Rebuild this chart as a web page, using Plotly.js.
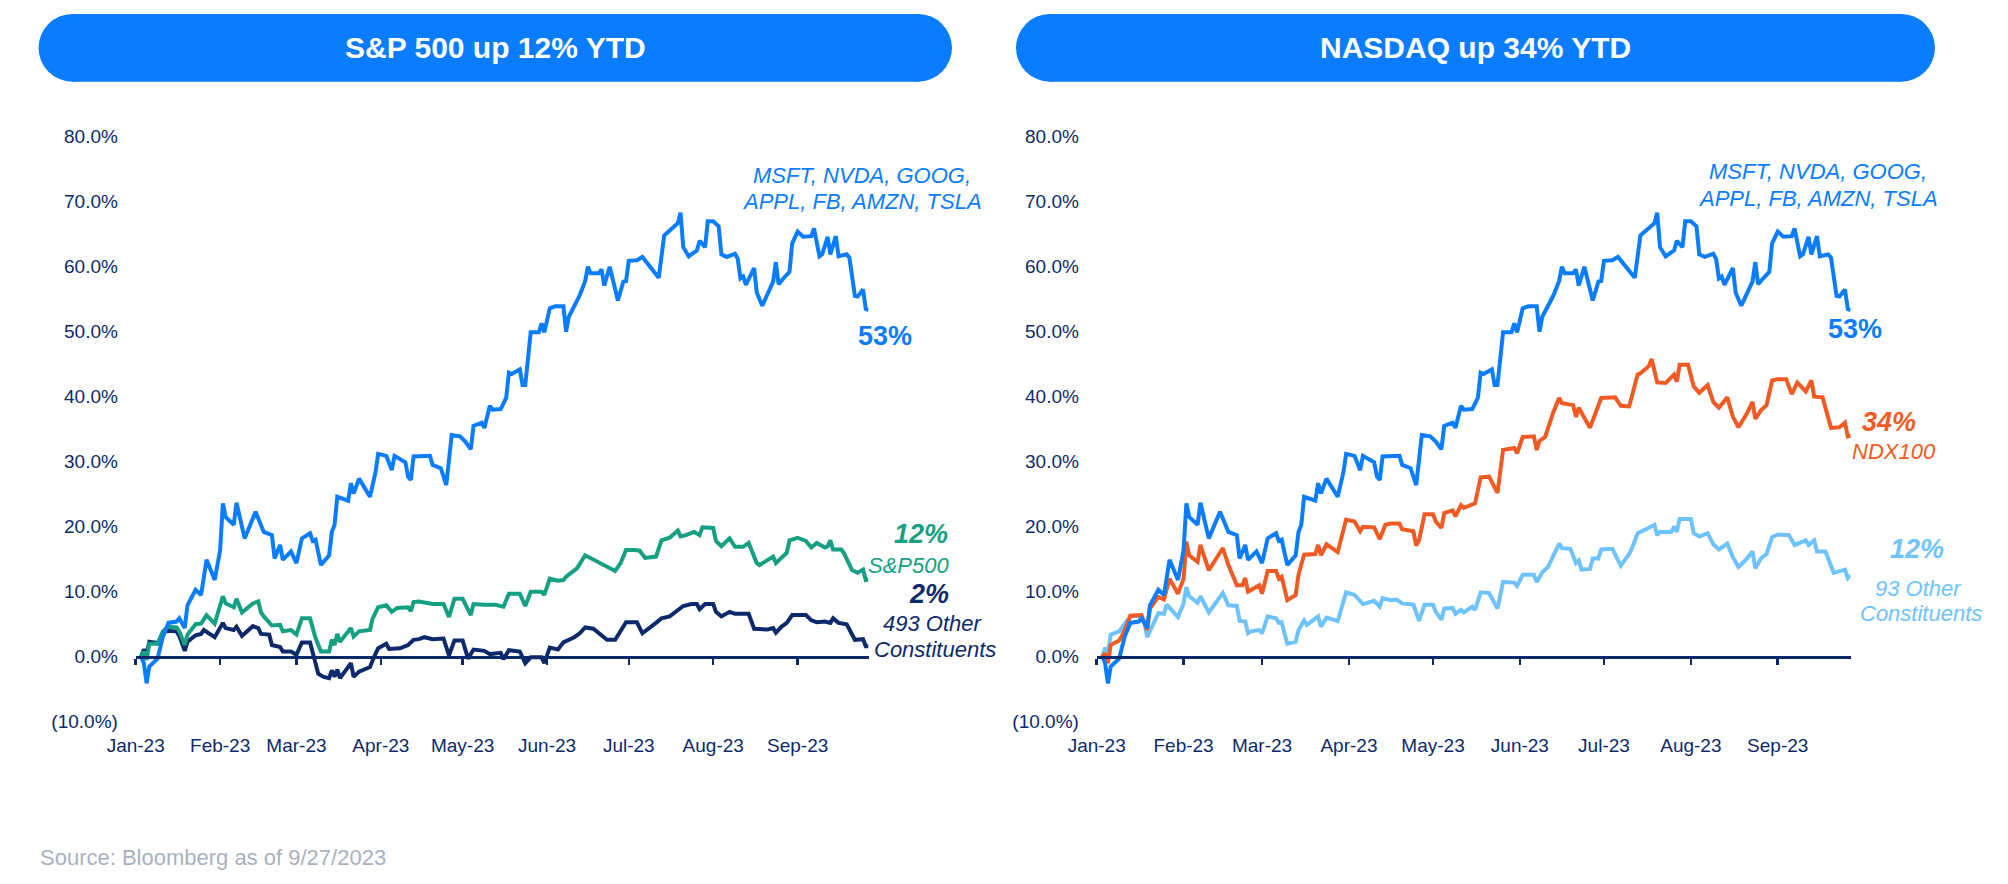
<!DOCTYPE html>
<html>
<head>
<meta charset="utf-8">
<script src="https://cdn.plot.ly/plotly-3.0.1.min.js"></script>
<style>
html,body{margin:0;padding:0;background:#fff;}
#chart{width:2008px;height:884px;}
</style>
</head>
<body>
<div id="chart"></div>
<script>
// ---- DATA (day = days since 2023-01-01, values in %) ----
const mag7Days = [2,3,4,5,8,10,12,15,16,18,19,22,24,26,29,31,32,33,36,37,40,44,47,50,51,53,54,57,59,61,64,65,66,68,71,72,73,74,78,79,80,82,86,88,89,92,94,95,99,100,101,102,108,109,112,114,116,119,121,123,124,127,128,130,131,134,136,137,138,141,142,143,145,148,149,150,152,154,157,158,159,160,163,165,166,167,170,171,172,174,177,179,180,181,184,186,189,192,194,197,199,200,201,203,206,207,208,209,210,212,214,215,217,220,221,222,223,224,227,228,230,234,235,236,238,240,241,243,245,248,249,251,252,254,255,257,258,261,262,264,265,267,268,269];
const mag7Vals = [0.0,-1.0,-4.1,-1.5,-0.3,3.1,5.2,5.4,5.9,4.4,7.9,10.3,9.5,14.9,11.8,16.4,23.6,21.5,20.3,23.7,18.2,22.3,19.2,18.7,15.1,17.2,14.9,16.2,14.4,18.2,19.0,17.8,18.0,14.1,15.6,19.2,20.3,24.6,24.0,26.7,25.1,27.4,24.6,28.3,31.2,30.9,28.7,30.9,29.9,27.7,27.2,30.8,30.9,29.5,29.0,26.4,34.1,33.9,33.1,31.9,35.5,36.0,35.2,38.6,38.0,38.1,39.8,43.7,43.5,44.2,41.8,41.8,49.9,49.9,51.3,49.9,53.6,53.9,53.9,50.0,52.3,53.1,55.6,57.8,60.0,59.0,59.0,59.6,57.1,60.0,54.8,57.7,57.8,60.9,61.0,61.5,59.8,58.3,64.8,65.9,66.7,68.3,63.0,61.6,62.5,64.0,63.5,63.0,67.0,67.0,66.2,61.9,61.5,62.0,61.2,58.2,58.5,57.2,59.8,56.0,54.0,57.7,60.7,57.3,58.3,59.2,63.6,65.4,64.6,64.7,65.9,61.6,61.9,64.6,61.9,64.7,61.6,61.9,61.4,55.5,55.4,56.5,53.5,53.3];

const spxDays = [2,3,4,5,8,10,12,15,16,18,19,22,24,26,29,32,33,36,37,39,43,45,46,47,50,53,54,57,59,61,64,65,66,68,71,72,73,74,75,79,80,82,86,87,89,92,94,96,100,101,102,104,109,113,115,117,120,123,124,128,132,135,137,141,143,145,149,150,152,155,157,158,162,165,168,171,173,176,178,180,183,185,187,191,193,196,199,200,202,205,207,208,212,213,215,218,220,223,225,228,229,232,234,235,237,239,240,243,246,248,250,253,254,255,256,259,260,263,265,267,268,269];
const spxVals = [0.0,0.8,-0.5,2.0,2.0,3.9,4.6,4.5,3.9,1.8,3.4,5.0,5.1,6.4,5.1,9.3,8.2,7.6,8.9,6.8,8.2,8.5,6.8,6.2,4.8,4.9,3.9,4.1,3.4,5.9,5.9,4.6,2.9,0.8,0.8,2.6,1.8,3.5,2.3,4.4,3.1,3.9,4.1,5.9,7.6,7.9,6.9,7.5,7.6,7.0,8.4,8.5,8.1,8.1,6.1,8.9,8.9,6.4,8.1,8.0,8.0,7.7,9.7,9.7,7.8,10.0,10.0,9.5,12.0,11.7,11.8,12.3,13.6,15.6,14.9,14.3,13.8,13.2,14.4,16.4,16.4,16.3,15.2,15.4,17.9,18.3,19.4,18.5,18.7,19.2,18.7,19.9,19.8,17.8,17.0,18.2,16.9,16.9,17.5,14.4,14.1,14.8,15.4,14.4,15.2,16.0,17.9,18.3,17.8,16.8,17.5,16.8,17.0,17.9,16.5,16.5,15.9,13.3,12.9,13.4,11.8,11.9];

const other493Days = [2,3,4,5,8,10,11,15,16,18,19,22,24,25,29,32,33,36,37,39,43,45,46,49,50,53,54,57,59,61,64,65,67,69,71,72,73,74,75,79,80,82,86,87,89,92,93,97,100,102,104,106,109,113,115,117,120,122,124,128,130,134,135,137,141,143,145,149,150,152,155,157,161,163,165,168,171,173,176,178,180,184,186,191,193,196,198,201,204,206,207,209,212,213,215,218,220,225,227,232,234,235,237,239,241,243,246,248,250,253,255,256,258,261,262,264,267,268,269];
const other493Vals = [0.0,1.1,0.3,2.3,2.1,3.5,4.0,3.9,3.2,0.9,2.3,3.3,3.5,4.1,3.0,5.2,4.4,4.1,4.6,3.2,4.7,4.4,3.5,3.4,1.8,1.5,0.8,0.8,0.3,2.2,2.2,0.6,-2.6,-3.1,-3.3,-2.1,-3.1,-2.0,-3.3,-1.0,-3.1,-2.3,-1.6,-0.5,1.3,2.0,1.2,1.3,1.8,2.6,2.7,3.0,2.7,2.8,0.2,2.5,2.5,-0.3,1.1,0.9,0.4,0.6,-0.4,1.0,0.8,-1.0,-0.1,-0.1,-1.0,1.4,1.1,2.2,3.0,3.6,4.5,4.3,3.3,2.6,2.6,3.9,5.3,5.3,3.6,5.2,5.9,6.2,6.9,7.8,8.1,8.1,7.3,8.1,8.1,6.9,6.2,6.9,6.6,6.6,4.3,4.2,4.4,3.7,4.6,5.2,6.4,6.4,6.4,5.6,5.3,5.4,5.2,5.9,5.2,5.0,4.1,2.6,2.7,1.6,1.6];

const ndxDays = [2,3,4,5,8,9,11,12,16,18,19,22,24,26,29,31,32,33,36,37,40,45,47,50,52,53,54,58,59,61,64,65,66,68,71,72,74,78,79,80,82,86,89,92,94,95,99,101,103,105,108,109,113,114,115,117,120,121,123,124,127,128,130,131,135,137,140,143,145,149,150,152,156,157,158,160,163,165,166,170,171,172,176,178,180,185,187,190,193,194,197,198,200,203,206,207,208,211,212,213,215,218,220,222,225,227,229,232,234,235,237,239,241,243,246,248,250,253,255,256,259,262,265,267,268,269];
const ndxVals = [0.0,0.5,-1.0,1.8,2.5,3.2,5.1,6.3,6.4,4.1,7.4,9.2,8.8,12.0,9.7,12.0,17.7,15.6,14.6,17.2,13.3,16.7,14.1,11.0,11.0,12.1,10.0,11.0,9.7,13.2,13.2,12.0,12.3,8.7,9.5,12.6,15.7,15.8,17.2,15.6,17.3,16.1,21.1,20.8,19.3,20.0,19.9,18.1,20.3,20.5,20.5,19.6,19.3,17.1,17.9,21.9,21.9,20.8,19.8,22.1,22.5,21.6,23.3,22.9,23.6,27.6,27.7,25.2,31.8,32.1,31.3,33.8,33.9,31.8,33.2,33.8,37.7,39.8,39.0,38.7,36.9,38.3,35.2,37.7,39.8,39.9,38.6,38.5,43.4,43.6,44.7,45.8,42.2,42.1,43.4,42.3,44.9,44.9,43.5,41.6,40.6,41.8,39.2,38.3,39.9,36.9,35.3,37.4,39.2,36.6,37.9,38.7,42.5,42.7,42.7,40.4,42.2,40.8,42.5,40.0,39.9,35.2,35.3,36.0,33.9,34.0];

const other93Days = [2,3,4,5,8,10,12,15,17,18,20,22,24,25,29,31,32,33,36,37,40,45,47,50,51,53,54,55,58,59,61,64,65,66,68,71,72,74,75,79,80,82,86,89,92,95,99,101,102,105,107,109,113,115,117,120,121,123,124,127,128,130,131,134,135,137,140,143,145,149,150,152,156,157,159,161,163,165,166,169,171,172,173,176,177,179,180,184,187,190,191,193,196,199,200,201,205,206,207,208,212,213,215,218,220,222,225,227,229,232,234,235,237,239,241,243,247,249,252,253,254,256,257,260,263,267,268,269];
const other93Vals = [0.0,1.4,0.6,3.4,3.9,5.1,6.2,6.3,5.4,3.0,4.9,6.7,6.6,8.0,6.1,8.2,10.7,9.3,8.3,9.3,6.8,9.8,7.9,7.8,5.5,5.4,3.6,3.9,4.1,3.6,6.2,5.9,5.2,5.3,2.0,2.3,4.1,5.6,4.9,6.2,4.6,6.0,5.5,9.9,9.5,8.1,8.6,7.7,9.0,8.7,8.8,8.2,8.0,5.5,8.0,8.0,6.9,5.7,7.4,7.5,6.6,7.2,6.8,7.7,7.2,9.9,9.8,7.4,11.5,11.4,10.9,12.6,12.6,11.5,13.0,13.8,15.6,17.4,16.7,16.6,14.4,14.8,13.4,13.5,15.1,15.1,16.5,16.6,14.0,15.8,16.7,19.0,19.6,20.3,18.7,19.2,19.2,20.0,19.2,21.2,21.2,19.0,18.5,19.0,17.3,16.5,17.4,15.3,13.8,15.1,16.2,13.6,15.1,15.8,18.4,18.8,18.7,17.2,17.7,17.9,17.2,17.9,16.2,16.2,12.9,13.4,12.1,12.5];

const monthTicks = ['2023-01-01','2023-02-01','2023-03-01','2023-04-01','2023-05-01','2023-06-01','2023-07-01','2023-08-01','2023-09-01'];
const monthLabels = ['Jan-23','Feb-23','Mar-23','Apr-23','May-23','Jun-23','Jul-23','Aug-23','Sep-23'];
const yTickVals = [-10,0,10,20,30,40,50,60,70,80];
const yTickLabels = ['(10.0%)','0.0%','10.0%','20.0%','30.0%','40.0%','50.0%','60.0%','70.0%','80.0%'];
const xRange = ['2023-01-01','2023-09-27'];

// ---- helpers ----
function toDate(d){ return new Date(Date.UTC(2023,0,1) + d*86400000).toISOString().slice(0,10); }
const W = 2008, H = 884;
const px = v => v / W;
const py = v => 1 - v / H;

const FONT = 'Arial, "Liberation Sans", sans-serif';
const NAVY = '#0c2a6b';
const BLUE = '#0a7cff';
const GREEN = '#15a083';
const ORANGE = '#f25a24';
const LIGHT = '#6ec3ff';

function line(days, vals, color, xa, ya){
  return {x: days.map(toDate), y: vals, type:'scatter', mode:'lines',
    line:{color:color, width:4}, xaxis:xa, yaxis:ya, hoverinfo:'skip'};
}
function dummy(xa, ya){
  return {x:[], y:[], type:'scatter', mode:'lines', xaxis:xa, yaxis:ya, hoverinfo:'skip', showlegend:false};
}

const traces = [
  dummy('x3', 'y'),
  dummy('x4', 'y2'),
  line(other493Days, other493Vals, NAVY, 'x', 'y'),
  line(spxDays, spxVals, GREEN, 'x', 'y'),
  line(mag7Days, mag7Vals, BLUE, 'x', 'y'),
  line(other93Days, other93Vals, LIGHT, 'x2', 'y2'),
  line(ndxDays, ndxVals, ORANGE, 'x2', 'y2'),
  line(mag7Days, mag7Vals, BLUE, 'x2', 'y2')
];

const yDom = [py(721.7), py(136.7)];
const leftDom = [px(135.7), px(868.5)];
const rightDom = [px(1096.7), px(1850.6)];
const zeroPos = py(656.7);

function yAxis(anchor){
  return {domain:yDom, range:[-10,80], anchor:anchor, tickvals:yTickVals, ticktext:yTickLabels,
    showgrid:false, zeroline:false, showline:false, ticks:'outside', ticklen:13,
    tickcolor:'rgba(0,0,0,0)', tickfont:{family:FONT, size:19, color:NAVY}, fixedrange:true};
}
function xLabelAxis(dom, anchor){
  return {type:'date', domain:dom, range:xRange, anchor:anchor, tickvals:monthTicks, ticktext:monthLabels,
    showgrid:false, zeroline:false, showline:false, ticks:'outside', ticklen:6, tickcolor:'rgba(0,0,0,0)',
    tickfont:{family:FONT, size:19, color:NAVY}, fixedrange:true};
}
function xZeroAxis(dom, over){
  return {type:'date', domain:dom, range:xRange, overlaying:over, anchor:'free', position:zeroPos,
    tickvals:monthTicks, showticklabels:false, showgrid:false, zeroline:false,
    showline:true, linecolor:NAVY, linewidth:3, ticks:'outside', ticklen:6, tickwidth:2.5, tickcolor:NAVY,
    fixedrange:true};
}

function pill(x0, x1, y0, y1){
  const r = (y1 - y0) / 2;
  const c = BLUE;
  return [
    {type:'rect', xref:'paper', yref:'paper', x0:px(x0 + r), x1:px(x1 - r), y0:py(y1), y1:py(y0), fillcolor:c, line:{width:0}, layer:'below'},
    {type:'circle', xref:'paper', yref:'paper', x0:px(x0), x1:px(x0 + 2*r), y0:py(y1), y1:py(y0), fillcolor:c, line:{width:0}, layer:'below'},
    {type:'circle', xref:'paper', yref:'paper', x0:px(x1 - 2*r), x1:px(x1), y0:py(y1), y1:py(y0), fillcolor:c, line:{width:0}, layer:'below'}
  ];
}

function ann(text, x, y, size, color, opts){
  opts = opts || {};
  let t = text;
  if(opts.italic) t = '<i>' + t + '</i>';
  if(opts.bold) t = '<b>' + t + '</b>';
  return {text:t, xref:'paper', yref:'paper', x:px(x), y:py(y), xanchor:opts.xanchor || 'center', yanchor:'middle',
    showarrow:false, font:{family:FONT, size:size, color:color}};
}

const annotations = [
  ann('S&amp;P 500 up 12% YTD', 495, 47, 30, '#ffffff', {bold:true}),
  ann('NASDAQ up 34% YTD', 1475.5, 47, 30, '#ffffff', {bold:true}),
  // left
  ann('MSFT, NVDA, GOOG,', 862, 175.7, 22, BLUE, {italic:true}),
  ann('APPL, FB, AMZN, TSLA', 862, 201.7, 22, BLUE, {italic:true}),
  ann('53%', 884.6, 336, 27, BLUE, {bold:true}),
  ann('12%', 920.6, 534.3, 27, GREEN, {bold:true, italic:true}),
  ann('S&amp;P500', 908, 565.3, 22, GREEN, {italic:true}),
  ann('2%', 929, 594.3, 27, NAVY, {bold:true, italic:true}),
  ann('493 Other', 932.7, 623.7, 22, NAVY, {italic:true}),
  ann('Constituents', 935, 649.3, 22, NAVY, {italic:true}),
  // right
  ann('MSFT, NVDA, GOOG,', 1818, 171.7, 22, BLUE, {italic:true}),
  ann('APPL, FB, AMZN, TSLA', 1818, 198.3, 22, BLUE, {italic:true}),
  ann('53%', 1855, 329.3, 27, BLUE, {bold:true}),
  ann('34%', 1889, 421.7, 27, ORANGE, {bold:true, italic:true}),
  ann('NDX100', 1894, 451.7, 22, ORANGE, {italic:true}),
  ann('12%', 1916.7, 549.3, 27, LIGHT, {bold:true, italic:true}),
  ann('93 Other', 1918.3, 588.3, 22, LIGHT, {italic:true}),
  ann('Constituents', 1920.7, 613.3, 22, LIGHT, {italic:true}),
  // source
  ann('Source: Bloomberg as of 9/27/2023', 38, 857, 22, '#a9b1be', {xanchor:'left'})
];

const layout = {
  width:W, height:H, margin:{l:0, r:0, t:0, b:0}, paper_bgcolor:'#ffffff', plot_bgcolor:'rgba(0,0,0,0)',
  showlegend:false,
  xaxis:xLabelAxis(leftDom, 'y'),
  yaxis:yAxis('x'),
  xaxis2:xLabelAxis(rightDom, 'y2'),
  yaxis2:yAxis('x2'),
  xaxis3:xZeroAxis(leftDom, 'x'),
  xaxis4:xZeroAxis(rightDom, 'x2'),
  shapes:[].concat(pill(38.5, 952, 14, 81.7), pill(1016, 1935, 14, 81.7)),
  annotations:annotations
};

Plotly.newPlot('chart', traces, layout, {staticPlot:true, displayModeBar:false});
</script>
</body>
</html>
